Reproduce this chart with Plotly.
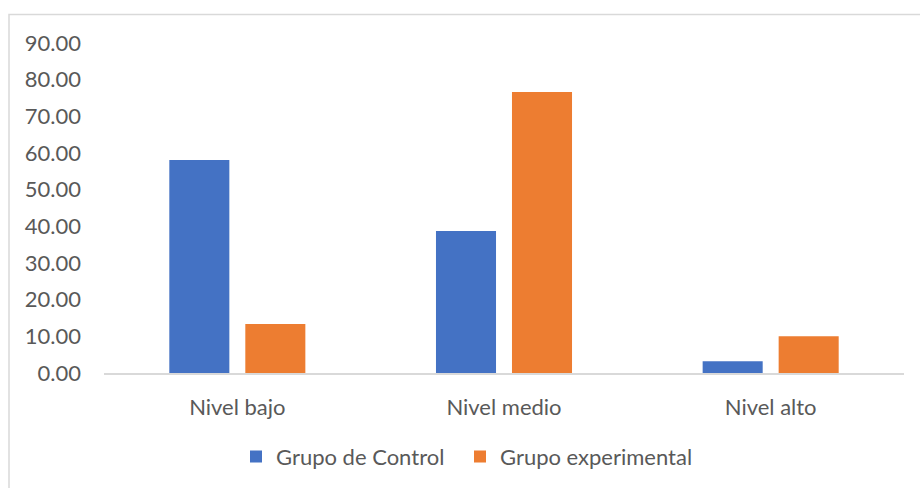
import plotly.graph_objects as go

categories = ["Nivel bajo", "Nivel medio", "Nivel alto"]
control = [58.06, 38.71, 3.23]
experimental = [13.33, 76.67, 10.00]
series_names = ["Grupo de Control", "Grupo experimental"]
tick_vals = [0, 10, 20, 30, 40, 50, 60, 70, 80, 90]
tick_text = ["%.2f" % v for v in tick_vals]

FONT = "Lato"
GREY = "#595959"

fig = go.Figure()
fig.add_trace(go.Bar(x=categories, y=control, name=series_names[0], legend="legend",
                     marker=dict(color="#4472C4", line=dict(width=0))))
fig.add_trace(go.Bar(x=categories, y=experimental, name=series_names[1], legend="legend2",
                     marker=dict(color="#ED7D31", line=dict(width=0))))

leg_common = dict(orientation="h", y=-0.19, yanchor="top", xanchor="left",
                  font=dict(family=FONT, size=22, color=GREY), itemwidth=30,
                  bgcolor="rgba(0,0,0,0)")

fig.update_layout(
    width=920, height=488,
    margin=dict(l=104, r=16, t=43, b=115, autoexpand=False),
    paper_bgcolor="white", plot_bgcolor="white",
    barmode="group", bargap=0.43, bargroupgap=0.21,
    font=dict(family=FONT, size=22, color=GREY),
    showlegend=True,
    legend=dict(x=(236 - 104) / 800, **leg_common),
    legend2=dict(x=(460 - 104) / 800, **leg_common),
    xaxis=dict(showline=True, linecolor="#d9d9d9", linewidth=2, showgrid=False,
               automargin=False,
               ticks="", ticklabelstandoff=14, tickfont=dict(size=22, color=GREY)),
    yaxis=dict(range=[0, 90], tickvals=tick_vals, ticktext=tick_text, showgrid=False,
               automargin=False,
               zeroline=False, showline=False, ticks="", ticklabelstandoff=22,
               tickfont=dict(size=22, color=GREY)),
    shapes=[dict(type="rect", xref="paper", yref="paper",
                 x0=(9 - 104) / 800, x1=(930 - 104) / 800,
                 y0=(373 - 500) / 330, y1=(373 - 14.5) / 330,
                 line=dict(color="#d9d9d9", width=1.5), fillcolor="rgba(0,0,0,0)",
                 layer="below")],
)

fig.write_html("out.html", config={"displayModeBar": False},
               post_script="document.body.style.margin='0';document.body.style.overflow='hidden';")
